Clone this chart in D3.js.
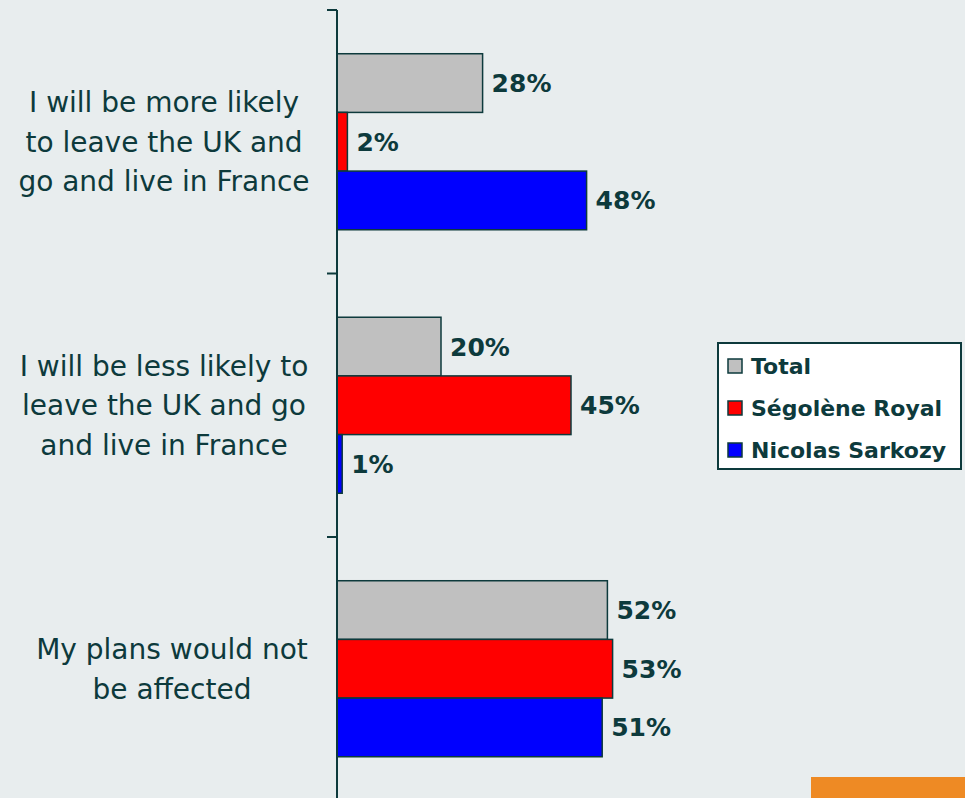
<!DOCTYPE html>
<html>
<head>
<meta charset="utf-8">
<script src="https://cdn.jsdelivr.net/npm/d3@7"></script>
<style>
  html, body { margin: 0; padding: 0; background: #e8edee; }
  svg { display: block; }
</style>
</head>
<body>
<svg id="chart"></svg>
<script>
// data
const categories = [
  ['I will be more likely', 'to leave the UK and', 'go and live in France'],
  ['I will be less likely to', 'leave the UK and go', 'and live in France'],
  ['My plans would not', 'be affected']
]
const seriesNames = ['Total', 'Ségolène Royal', 'Nicolas Sarkozy']
const totalValues = [28, 20, 52]
const royalValues = [2, 45, 53]
const sarkozyValues = [48, 1, 51]
const seriesColors = ['#c0c0c0', '#ff0000', '#0000ff']

const width = 965
const height = 798
const ink = '#0d3a3c'

const svg = d3.select('#chart')
    .attr('width', width)
    .attr('height', height)

svg.append('rect')
    .attr('width', width)
    .attr('height', height)
    .attr('fill', '#e8edee')

const catKeys = d3.range(categories.length)
const seriesValues = [totalValues, royalValues, sarkozyValues]

const y = d3.scaleBand()
    .domain(catKeys)
    .range([10, 800.5])
    .paddingInner(0.332)
    .paddingOuter(0.166)

const ySeries = d3.scaleBand()
    .domain(d3.range(seriesNames.length))
    .range([0, y.bandwidth()])

const x = d3.scaleLinear()
    .domain([0, 100])
    .range([337, 857])

// bars
const groups = svg.append('g').selectAll('g')
    .data(catKeys)
    .enter()
    .append('g')
    .attr('transform', d => `translate(0,${y(d)})`)

groups.selectAll('rect')
    .data(c => seriesValues.map((vals, s) => ({ s: s, v: vals[c] })))
    .enter()
    .append('rect')
    .attr('x', x(0))
    .attr('y', d => ySeries(d.s))
    .attr('width', d => x(d.v) - x(0))
    .attr('height', ySeries.bandwidth())
    .attr('fill', d => seriesColors[d.s])
    .attr('stroke', ink)
    .attr('stroke-width', 1.5)

groups.selectAll('text.val')
    .data(c => seriesValues.map((vals, s) => ({ s: s, v: vals[c] })))
    .enter()
    .append('text')
    .attr('class', 'val')
    .attr('x', d => x(d.v) + 9)
    .attr('y', d => ySeries(d.s) + ySeries.bandwidth() / 2)
    .attr('dy', '0.36em')
    .attr('font-family', 'DejaVu Sans')
    .attr('font-weight', 'bold')
    .attr('font-size', 25)
    .attr('fill', ink)
    .text(d => d.v + '%')

// axis (band edges as ticks)
const edges = catKeys.map(c => y(c) - y.step() * y.paddingOuter()).concat([800.5])
const axis = svg.append('g')
axis.append('line')
    .attr('x1', x(0)).attr('x2', x(0))
    .attr('y1', edges[0]).attr('y2', height)
    .attr('stroke', ink)
    .attr('stroke-width', 2)
axis.selectAll('line.tick')
    .data(edges)
    .enter()
    .append('line')
    .attr('class', 'tick')
    .attr('x1', x(0) - 10).attr('x2', x(0))
    .attr('y1', d => d).attr('y2', d => d)
    .attr('stroke', ink)
    .attr('stroke-width', 2)

// category labels
const lineH = 39.5
svg.append('g').selectAll('text')
    .data(catKeys)
    .enter()
    .append('text')
    .attr('text-anchor', 'middle')
    .attr('font-family', 'DejaVu Sans')
    .attr('font-size', 28)
    .attr('fill', ink)
    .each(function(c) {
        const lines = categories[c]
        const mid = y(c) + y.bandwidth() / 2
        const top = mid - (lines.length - 1) * lineH / 2
        // two-line label sits a little further right in the original
        const cx = lines.length < 3 ? 172 : 164
        d3.select(this).selectAll('tspan')
            .data(lines)
            .enter()
            .append('tspan')
            .attr('x', cx)
            .attr('y', (d, i) => top + i * lineH)
            .attr('dy', '0.36em')
            .text(d => d)
    })

// legend
const legend = svg.append('g').attr('transform', 'translate(718,343)')
legend.append('rect')
    .attr('width', 243)
    .attr('height', 126)
    .attr('fill', '#ffffff')
    .attr('stroke', ink)
    .attr('stroke-width', 2)

const items = legend.selectAll('g')
    .data(seriesNames)
    .enter()
    .append('g')
    .attr('transform', (d, i) => `translate(10,${16 + i * 42})`)

items.append('rect')
    .attr('width', 14)
    .attr('height', 14)
    .attr('fill', (d, i) => seriesColors[i])
    .attr('stroke', ink)
    .attr('stroke-width', 1.5)

items.append('text')
    .attr('x', 23)
    .attr('y', 7)
    .attr('dy', '0.36em')
    .attr('font-family', 'DejaVu Sans')
    .attr('font-weight', 'bold')
    .attr('font-size', 22)
    .attr('fill', ink)
    .text(d => d)

// orange corner tab
svg.append('rect')
    .attr('x', 811)
    .attr('y', 777)
    .attr('width', 154)
    .attr('height', 21)
    .attr('fill', '#ee8a24')
</script>
</body>
</html>
